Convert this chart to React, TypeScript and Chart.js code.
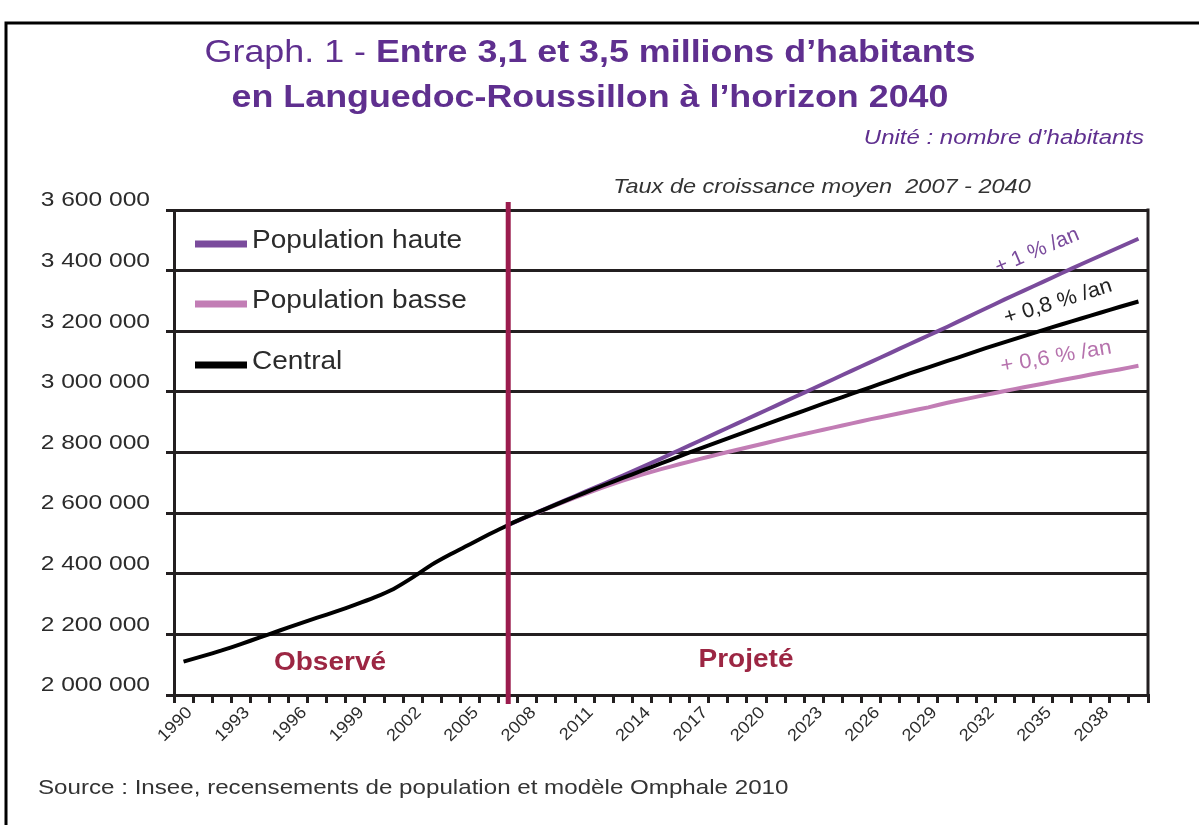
import React, { useEffect, useRef } from "react";
import { Chart, registerables } from "chart.js";

Chart.register(...registerables);

const YEARS = [
  "1990", "1991", "1992", "1993", "1994", "1995", "1996", "1997", "1998", "1999",
  "2000", "2001", "2002", "2003", "2004", "2005", "2006", "2007", "2008", "2009",
  "2010", "2011", "2012", "2013", "2014", "2015", "2016", "2017", "2018", "2019",
  "2020", "2021", "2022", "2023", "2024", "2025", "2026", "2027", "2028", "2029",
  "2030", "2031", "2032", "2033", "2034", "2035", "2036", "2037", "2038", "2039",
  "2040",
];

const CENTRAL = [
  2110000, 2128000, 2147000, 2168000, 2190000, 2212000, 2234000, 2255000, 2276000, 2298000,
  2322000, 2350000, 2388000, 2430000, 2465000, 2497000, 2530000, 2561000, 2589000, 2615000,
  2641000, 2667000, 2692000, 2716000, 2740000, 2764000, 2788000, 2812000, 2835000, 2858000,
  2881000, 2904000, 2927000, 2950000, 2972000, 2994000, 3016000, 3038000, 3060000, 3081000,
  3102000, 3123000, 3144000, 3164000, 3184000, 3204000, 3223000, 3242000, 3261000, 3280000,
  3298000,
];

const HAUTE = [
  null, null, null, null, null, null, null, null, null, null,
  null, null, null, null, null, null, null, 2561000, 2589000, 2616000,
  2643000, 2670000, 2697000, 2724000, 2752000, 2780000, 2809000, 2838000, 2867000, 2896000,
  2925000, 2954000, 2983000, 3012000, 3041000, 3070000, 3099000, 3128000, 3157000, 3186000,
  3215000, 3245000, 3275000, 3305000, 3334000, 3363000, 3392000, 3421000, 3449000, 3477000,
  3505000,
];

const BASSE = [
  null, null, null, null, null, null, null, null, null, null,
  null, null, null, null, null, null, null, 2561000, 2588000, 2614000,
  2639000, 2663000, 2686000, 2707000, 2727000, 2745000, 2762000, 2778000, 2794000, 2809000,
  2824000, 2839000, 2854000, 2868000, 2882000, 2896000, 2910000, 2923000, 2936000, 2949000,
  2964000, 2977000, 2990000, 3003000, 3015000, 3027000, 3039000, 3051000, 3063000, 3074000,
  3086000,
];

const SERIES_LABELS = ["Population haute", "Population basse", "Central"];
const Y_MIN = 2000000;
const Y_MAX = 3600000;
const Y_STEP = 200000;
const X_LABEL_EVERY = 3;
const SPLIT_YEAR = "2007";

const TITLE_1A = "Graph. 1 - ";
const TITLE_1B = "Entre 3,1 et 3,5 millions d\u2019habitants";
const TITLE_2 = "en Languedoc-Roussillon \u00e0 l\u2019horizon 2040";
const UNIT = "Unit\u00e9 : nombre d\u2019habitants";
const RATE_TITLE = "Taux de croissance moyen  2007 - 2040";
const RATE_LABELS = ["+ 1 % /an", "+ 0,8 % /an", "+ 0,6 % /an"];
const PERIOD_LABELS = ["Observ\u00e9", "Projet\u00e9"];
const SOURCE = "Source : Insee, recensements de population et mod\u00e8le Omphale 2010";

const FONT = "'Liberation Sans', Arial, sans-serif";
const PURPLE = "#7a4b9c";
const PINK = "#c27db5";
const BLACK = "#000000";
const GRID = "#231f20";
const SPLIT_COLOR = "#9b1c4e";
const TITLE_COLOR = "#5f2f8f";
const PERIOD_COLOR = "#9c2643";
const TEXT = "#2b2b2b";
const SX = 1.12;

function txt(
  ctx: CanvasRenderingContext2D,
  s: string,
  x: number,
  y: number,
  font: string,
  color: string,
  align: CanvasTextAlign = "left",
  rot = 0,
  sx = SX
) {
  ctx.save();
  ctx.translate(x, y);
  if (rot) ctx.rotate(rot);
  ctx.scale(sx, 1);
  ctx.font = font;
  ctx.fillStyle = color;
  ctx.textAlign = align;
  ctx.textBaseline = "middle";
  ctx.fillText(s, 0, 0);
  ctx.restore();
}

function fmt(v: number) {
  return String(v).replace(/\B(?=(\d{3})+(?!\d))/g, " ");
}

const decorPlugin = {
  id: "decor",
  afterDatasetsDraw(chart: any) {
    const ctx: CanvasRenderingContext2D = chart.ctx;
    const { right, top, bottom } = chart.chartArea;
    const xs = chart.scales.x;
    ctx.save();
    ctx.strokeStyle = GRID;
    ctx.lineWidth = 3;
    ctx.beginPath();
    ctx.moveTo(right, top - 1.5);
    ctx.lineTo(right, bottom + 1.5);
    ctx.stroke();
    const sx = xs.getPixelForValue(YEARS.indexOf(SPLIT_YEAR));
    ctx.strokeStyle = SPLIT_COLOR;
    ctx.lineWidth = 5;
    ctx.beginPath();
    ctx.moveTo(sx, top - 8);
    ctx.lineTo(sx, bottom + 9);
    ctx.stroke();
    ctx.restore();
  },
  afterDraw(chart: any) {
    const ctx: CanvasRenderingContext2D = chart.ctx;
    const { right, bottom } = chart.chartArea;
    const xs = chart.scales.x;
    const ys = chart.scales.y;

    // outer frame
    ctx.save();
    ctx.strokeStyle = "#000";
    ctx.lineWidth = 3;
    ctx.beginPath();
    ctx.moveTo(6, 825);
    ctx.lineTo(6, 23);
    ctx.lineTo(1199, 23);
    ctx.stroke();
    ctx.restore();

    // title
    const tFontN = `normal 32px ${FONT}`;
    const tFontB = `bold 32px ${FONT}`;
    ctx.save();
    ctx.font = tFontN;
    const w1 = ctx.measureText(TITLE_1A).width;
    ctx.font = tFontB;
    const w2 = ctx.measureText(TITLE_1B).width;
    ctx.restore();
    const cx = 590;
    const start = cx - ((w1 + w2) * SX) / 2;
    txt(ctx, TITLE_1A, start, 53, tFontN, TITLE_COLOR, "left");
    txt(ctx, TITLE_1B, start + w1 * SX, 53, tFontB, TITLE_COLOR, "left");
    txt(ctx, TITLE_2, cx, 98, tFontB, TITLE_COLOR, "center");

    txt(ctx, UNIT, right - 4, 138, `italic 20px ${FONT}`, TITLE_COLOR, "right", 0, 1.2);
    txt(ctx, RATE_TITLE, 822, 187, `italic 21px ${FONT}`, "#333", "center");

    // y tick labels
    ys.ticks.forEach((t: any) => {
      const py = ys.getPixelForValue(t.value);
      txt(ctx, fmt(t.value), 150, py - 9.5, `21px ${FONT}`, TEXT, "right", 0, 1.17);
    });

    // x tick labels
    YEARS.forEach((yr, i) => {
      if (i % X_LABEL_EVERY !== 0) return;
      const px = xs.getPixelForValue(i);
      txt(ctx, yr, px + 6, bottom + 15, `17px ${FONT}`, TEXT, "right", -Math.PI / 4, 1.08);
    });

    // legend
    const ds = chart.data.datasets;
    const rows = [241, 301, 362];
    ds.forEach((d: any, i: number) => {
      const y = rows[i];
      ctx.save();
      ctx.strokeStyle = d.borderColor;
      ctx.lineWidth = 7;
      ctx.beginPath();
      ctx.moveTo(195, y + 3);
      ctx.lineTo(247, y + 3);
      ctx.stroke();
      ctx.restore();
      txt(ctx, d.label, 252, y, `25px ${FONT}`, TEXT, "left");
    });

    // growth-rate labels
    txt(ctx, RATE_LABELS[0], 1037, 251, `21px ${FONT}`, PURPLE, "center", -0.4, 1.0);
    txt(ctx, RATE_LABELS[1], 1058, 302, `21px ${FONT}`, "#222", "center", -0.3, 1.05);
    txt(ctx, RATE_LABELS[2], 1056, 357, `21px ${FONT}`, "#b672ad", "center", -0.17, 1.05);

    // period labels
    txt(ctx, PERIOD_LABELS[0], 330, 663, `bold 25px ${FONT}`, PERIOD_COLOR, "center");
    txt(ctx, PERIOD_LABELS[1], 746, 660, `bold 25px ${FONT}`, PERIOD_COLOR, "center");

    // source
    txt(ctx, SOURCE, 38, 788, `21px ${FONT}`, "#333", "left", 0, 1.15);
  },
};

export default function App() {
  const ref = useRef<HTMLCanvasElement | null>(null);

  useEffect(() => {
    if (!ref.current) return;
    const chart = new Chart(ref.current, {
      type: "line",
      data: {
        labels: YEARS,
        datasets: [
          {
            label: SERIES_LABELS[0],
            data: HAUTE,
            borderColor: PURPLE,
            backgroundColor: PURPLE,
            borderWidth: 4,
            pointRadius: 0,
            tension: 0.2,
            order: 2,
          },
          {
            label: SERIES_LABELS[1],
            data: BASSE,
            borderColor: PINK,
            backgroundColor: PINK,
            borderWidth: 4,
            pointRadius: 0,
            tension: 0.2,
            order: 2,
          },
          {
            label: SERIES_LABELS[2],
            data: CENTRAL,
            borderColor: BLACK,
            backgroundColor: BLACK,
            borderWidth: 4,
            pointRadius: 0,
            tension: 0.2,
            order: 1,
          },
        ],
      },
      options: {
        animation: false,
        responsive: false,
        layout: { padding: { top: 210, right: 51, left: 0, bottom: 0 } },
        plugins: {
          legend: { display: false },
          tooltip: { enabled: false },
          title: { display: false },
        },
        scales: {
          x: {
            offset: true,
            grid: {
              offset: true,
              drawOnChartArea: false,
              drawTicks: true,
              tickLength: 8,
              color: GRID,
              lineWidth: 3,
            },
            border: { display: true, color: GRID, width: 3 },
            ticks: { display: false, autoSkip: false },
            afterFit: (s: any) => {
              s.height = 130;
            },
          },
          y: {
            min: Y_MIN,
            max: Y_MAX,
            ticks: { stepSize: Y_STEP, display: false },
            grid: { color: GRID, lineWidth: 3, drawTicks: true, tickLength: 8 },
            border: { display: true, color: GRID, width: 3 },
            afterFit: (s: any) => {
              s.width = 174;
            },
          },
        },
      },
      plugins: [decorPlugin],
    });
    return () => chart.destroy();
  }, []);

  return (
    <div style={{ position: "absolute", left: 0, top: 0, width: 1199, height: 825, background: "#fff" }}>
      <canvas ref={ref} width={1199} height={825} style={{ display: "block" }} />
    </div>
  );
}
